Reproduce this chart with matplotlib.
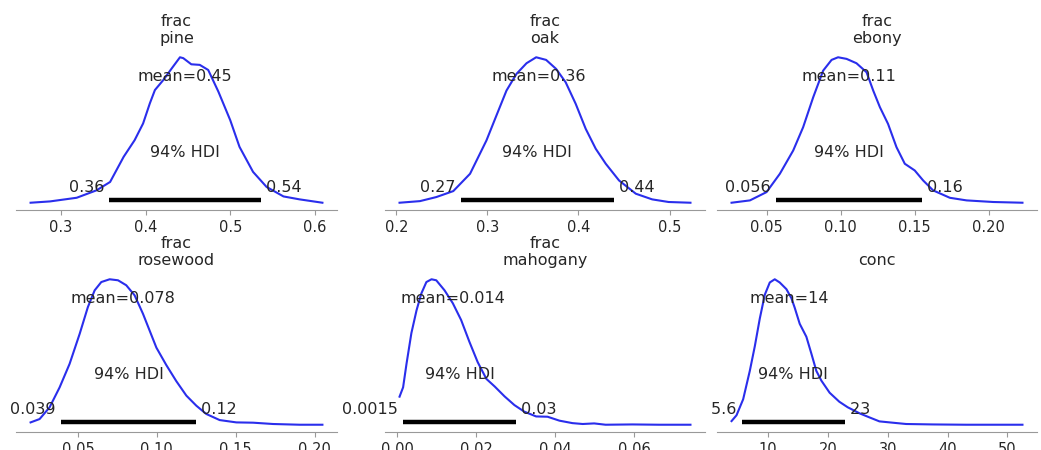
import matplotlib
matplotlib.use("Agg")
import matplotlib.pyplot as plt

# ---------------- data ----------------
titles = ["frac\npine", "frac\noak", "frac\nebony",
          "frac\nrosewood", "frac\nmahogany", "conc"]

pine_x = [0.264, 0.287, 0.3185, 0.342, 0.358, 0.374, 0.387, 0.397, 0.405, 0.411,
          0.421, 0.431, 0.4406, 0.4445, 0.454, 0.464, 0.474, 0.486, 0.500, 0.511,
          0.527, 0.543, 0.563, 0.582, 0.609]
pine_d = [0.0, 0.009, 0.034, 0.085, 0.142, 0.314, 0.428, 0.542, 0.680, 0.771,
          0.840, 0.920, 0.995, 0.989, 0.947, 0.943, 0.908, 0.760, 0.565, 0.382,
          0.211, 0.108, 0.043, 0.023, 0.0]

oak_x = [0.2036, 0.226, 0.244, 0.2626, 0.281, 0.299, 0.310, 0.321, 0.332, 0.343,
         0.3536, 0.3645, 0.3755, 0.386, 0.397, 0.408, 0.419, 0.430, 0.4446, 0.463,
         0.481, 0.499, 0.523]
oak_d = [0.0, 0.011, 0.039, 0.080, 0.199, 0.428, 0.600, 0.771, 0.886, 0.959,
         1.0, 0.982, 0.920, 0.828, 0.680, 0.508, 0.371, 0.268, 0.153, 0.062,
         0.023, 0.005, 0.0]

ebony_x = [0.0264, 0.0388, 0.050, 0.059, 0.068, 0.0747, 0.0815, 0.0882, 0.0939,
           0.0983, 0.104, 0.1107, 0.1175, 0.122, 0.1265, 0.132, 0.1377, 0.1433,
           0.150, 0.1557, 0.1624, 0.1737, 0.185, 0.203, 0.2227]
ebony_d = [0.0, 0.016, 0.073, 0.199, 0.359, 0.519, 0.725, 0.908, 0.982,
           1.0, 0.989, 0.959, 0.897, 0.771, 0.657, 0.542, 0.382, 0.268,
           0.222, 0.153, 0.085, 0.034, 0.016, 0.005, 0.0]

rosewood_x = [0.0200, 0.0257, 0.032, 0.0384, 0.0447, 0.0511, 0.0563, 0.0606, 0.0648,
              0.0701, 0.0754, 0.0806, 0.0859, 0.0912, 0.0997, 0.106, 0.1123, 0.1187,
              0.125, 0.1313, 0.1398, 0.1504, 0.161, 0.1736, 0.1905, 0.2049]
rosewood_d = [0.016, 0.039, 0.119, 0.257, 0.418, 0.625, 0.809, 0.924, 0.981,
              1.0, 0.993, 0.959, 0.890, 0.763, 0.530, 0.410, 0.300, 0.200,
              0.131, 0.074, 0.032, 0.016, 0.014, 0.005, 0.0, 0.0]

mahogany_x = [0.0006, 0.0015, 0.00236, 0.0036, 0.0049, 0.0061, 0.0074, 0.0087, 0.0099,
              0.0120, 0.0141, 0.0162, 0.0183, 0.0204, 0.0226, 0.0247, 0.0272, 0.0297,
              0.0322, 0.0352, 0.0381, 0.0411, 0.0444, 0.0470, 0.0499, 0.0528, 0.0596,
              0.0663, 0.0743]
mahogany_d = [0.193, 0.257, 0.418, 0.630, 0.786, 0.901, 0.981, 1.0, 0.993,
              0.924, 0.835, 0.720, 0.570, 0.430, 0.315, 0.263, 0.195, 0.135,
              0.090, 0.057, 0.055, 0.028, 0.011, 0.005, 0.009, 0.0, 0.002,
              0.0, 0.0]

conc_x = [3.89, 4.72, 5.83, 6.94, 7.78, 8.61, 9.44, 10.28, 11.11, 11.94, 13.06,
          13.89, 14.44, 15.28, 16.39, 17.22, 18.06, 18.9, 20.28, 21.9, 23.3, 25.3,
          26.9, 28.6, 30.8, 33.06, 37.5, 43.06, 52.5]
conc_d = [0.025, 0.065, 0.175, 0.370, 0.540, 0.730, 0.893, 0.978, 1.0, 0.978, 0.932,
          0.870, 0.805, 0.694, 0.605, 0.490, 0.370, 0.303, 0.220, 0.158, 0.120, 0.078,
          0.051, 0.023, 0.014, 0.005, 0.002, 0.0, 0.0]

means = [0.446, 0.356, 0.1058, 0.0785, 0.0141, 13.6]
mean_labels = ["0.45", "0.36", "0.11", "0.078", "0.014", "14"]
hdi_low = [0.357, 0.2706, 0.0563, 0.039, 0.0015, 5.6]
hdi_high = [0.536, 0.4392, 0.1552, 0.125, 0.0301, 22.8]
hdi_low_labels = ["0.36", "0.27", "0.056", "0.039", "0.0015", "5.6"]
hdi_high_labels = ["0.54", "0.44", "0.16", "0.12", "0.03", "23"]
hdi_text = "94% HDI"

xs = [pine_x, oak_x, ebony_x, rosewood_x, mahogany_x, conc_x]
ds = [pine_d, oak_d, ebony_d, rosewood_d, mahogany_d, conc_d]

xticks = [[0.3, 0.4, 0.5, 0.6],
          [0.2, 0.3, 0.4, 0.5],
          [0.05, 0.10, 0.15, 0.20],
          [0.05, 0.10, 0.15, 0.20],
          [0.00, 0.02, 0.04, 0.06],
          [10, 20, 30, 40, 50]]
xticklabels = [["0.3", "0.4", "0.5", "0.6"],
               ["0.2", "0.3", "0.4", "0.5"],
               ["0.05", "0.10", "0.15", "0.20"],
               ["0.05", "0.10", "0.15", "0.20"],
               ["0.00", "0.02", "0.04", "0.06"],
               ["10", "20", "30", "40", "50"]]

# ---------------- style ----------------
W, H = 1041, 450
line_color = "#2a2eec"
text_color = "#262626"
spine_color = "#999999"
label_size = 11.5
tick_size = 10.5

fig = plt.figure(figsize=(W / 100, H / 100), dpi=100)
fig.patch.set_facecolor("white")

col_left = [16, 385, 717]
col_width = [321, 320, 320]
row_bottom = [210, 432]
ax_h = 160

for i in range(6):
    r, c = divmod(i, 3)
    ax = fig.add_axes([col_left[c] / W, 1 - row_bottom[r] / H,
                       col_width[c] / W, ax_h / H])
    ax.plot(xs[i], ds[i], color=line_color, lw=1.5, solid_joinstyle="round")
    ax.margins(x=0.05, y=0.05)
    top = ax.get_ylim()[1]
    ax.plot([hdi_low[i], hdi_high[i]], [top * 0.02, top * 0.02], color="k",
            lw=3.2, solid_capstyle="butt")
    ax.text(hdi_low[i], top * 0.07, hdi_low_labels[i] + " ", ha="right",
            fontsize=label_size, color=text_color)
    ax.text(hdi_high[i], top * 0.07, " " + hdi_high_labels[i], ha="left",
            fontsize=label_size, color=text_color)
    ax.text((hdi_low[i] + hdi_high[i]) / 2, top * 0.3, hdi_text, ha="center",
            fontsize=label_size, color=text_color)
    ax.text(means[i], top * 0.8, "mean=" + mean_labels[i], ha="center",
            fontsize=label_size, color=text_color)
    ax.set_title(titles[i], fontsize=label_size, color=text_color, pad=5)
    ax.set_xticks(xticks[i])
    ax.set_xticklabels(xticklabels[i])
    ax.set_yticks([])
    for s in ["top", "left", "right"]:
        ax.spines[s].set_visible(False)
    ax.spines["bottom"].set_color(spine_color)
    ax.tick_params(axis="x", colors=spine_color, labelcolor=text_color,
                   labelsize=tick_size, length=3.5, width=0.8)
    ax.set_facecolor("white")

fig.savefig("out.png", dpi=100, facecolor="white")
